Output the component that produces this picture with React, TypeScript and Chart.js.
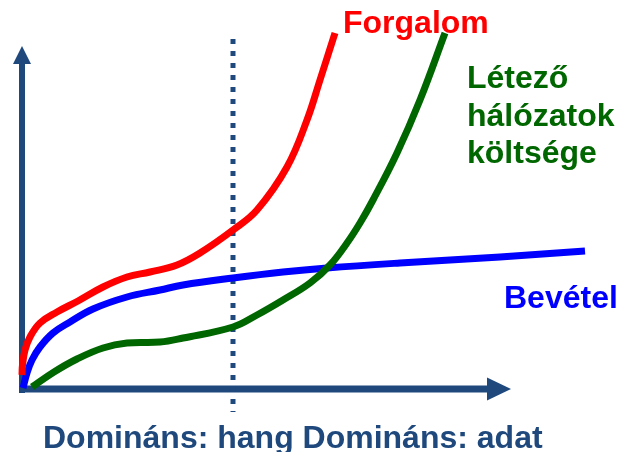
import { useEffect, useRef } from "react";
import { Chart, registerables } from "chart.js";

Chart.register(...registerables);

// Conceptual curves (origin = where the two axes meet)
const forgalomX = [0, 0.5, 3, 8, 18, 35, 56, 81, 105, 128, 155, 178, 211, 235, 265, 285, 298, 313];
const forgalomY = [14, 24, 39, 52, 66, 77, 88, 102, 112, 117, 124, 136, 159, 179, 222, 269, 309, 356];

const bevetelX = [1, 5, 10, 18, 31, 48, 71, 105, 138, 161, 211, 261, 305, 378, 478, 563];
const bevetelY = [1, 16, 29, 42, 56, 67, 80, 92, 99, 104, 111, 117, 121, 126, 132, 138];

const koltsegX = [10, 32, 55, 81, 105, 138, 161, 211, 235, 261, 288, 308, 325, 338, 351, 375, 398, 423];
const koltsegY = [2, 17, 30, 41, 46, 47, 51, 62, 74, 89, 106, 124, 146, 166, 189, 236, 289, 356];

// Vertical dotted divider (voice era | data era)
const dividerX = [211, 211];
const dividerY = [350, -23];

const labelForgalom = "Forgalom";
const labelKoltseg = ["Létező", "hálózatok", "költsége"];
const labelBevetel = "Bevétel";
const labelBottom = "Domináns: hang Domináns: adat";

const AXIS = "#1F497D";
const RED = "#FF0000";
const BLUE = "#0000FF";
const GREEN = "#006600";
const FONT = "bold 32px 'Liberation Sans', Arial, sans-serif";

const pts = (xs: number[], ys: number[]) => xs.map((x, i) => ({ x, y: ys[i] }));

const decor = {
  id: "decor",
  beforeDatasetsDraw(chart: any) {
    const { ctx, scales } = chart;
    const X = (v: number) => scales.x.getPixelForValue(v);
    const Y = (v: number) => scales.y.getPixelForValue(v);
    ctx.save();
    ctx.strokeStyle = AXIS;
    ctx.fillStyle = AXIS;
    ctx.lineCap = "butt";
    // y axis
    ctx.lineWidth = 6;
    ctx.beginPath();
    ctx.moveTo(X(0), Y(-4));
    ctx.lineTo(X(0), Y(326));
    ctx.stroke();
    ctx.beginPath();
    ctx.moveTo(X(0), Y(343));
    ctx.lineTo(X(-9), Y(325));
    ctx.lineTo(X(9), Y(325));
    ctx.closePath();
    ctx.fill();
    // x axis
    ctx.lineWidth = 7;
    ctx.beginPath();
    ctx.moveTo(X(-3), Y(0));
    ctx.lineTo(X(466), Y(0));
    ctx.stroke();
    ctx.beginPath();
    ctx.moveTo(X(489), Y(0));
    ctx.lineTo(X(465), Y(11.5));
    ctx.lineTo(X(465), Y(-11.5));
    ctx.closePath();
    ctx.fill();
    ctx.restore();
  },
  afterDatasetsDraw(chart: any) {
    const { ctx, scales } = chart;
    const X = (v: number) => scales.x.getPixelForValue(v);
    const Y = (v: number) => scales.y.getPixelForValue(v);
    ctx.save();
    ctx.font = FONT;
    ctx.textAlign = "left";
    ctx.textBaseline = "alphabetic";
    ctx.fillStyle = RED;
    ctx.fillText(labelForgalom, X(321), Y(356));
    ctx.fillStyle = GREEN;
    const ky = [301, 263.5, 226];
    labelKoltseg.forEach((t, i) => ctx.fillText(t, X(445), Y(ky[i])));
    ctx.fillStyle = BLUE;
    ctx.fillText(labelBevetel, X(482), Y(81));
    ctx.fillStyle = AXIS;
    ctx.fillText(labelBottom, X(21), Y(-58.7));
    ctx.restore();
  },
};

export default function App() {
  const ref = useRef<HTMLCanvasElement>(null);
  useEffect(() => {
    if (!ref.current) return;
    const common = {
      pointRadius: 0,
      borderWidth: 7,
      fill: false,
      tension: 0.4,
      borderCapStyle: "butt" as const,
      clip: false as any,
    };
    const chart = new Chart(ref.current, {
      type: "line",
      data: {
        datasets: [
          { ...common, label: "Létező hálózatok költsége", data: pts(koltsegX, koltsegY), borderColor: GREEN },
          { ...common, label: "Forgalom", data: pts(forgalomX, forgalomY), borderColor: RED },
          { ...common, label: "Bevétel", data: pts(bevetelX, bevetelY), borderColor: BLUE },
          {
            label: "divider",
            data: pts(dividerX, dividerY),
            borderColor: AXIS,
            borderWidth: 5,
            borderDash: [5, 7],
            borderCapStyle: "butt",
            pointRadius: 0,
            fill: false,
            tension: 0,
            clip: false as any,
          },
        ],
      },
      options: {
        animation: false,
        responsive: false,
        layout: { padding: 0 },
        parsing: false as any,
        scales: {
          x: { type: "linear", min: -22, max: 595, display: false },
          y: { type: "linear", min: -63, max: 389, display: false },
        },
        plugins: { legend: { display: false }, tooltip: { enabled: false } },
        events: [],
      },
      plugins: [decor],
    });
    return () => chart.destroy();
  }, []);
  return (
    <div style={{ position: "fixed", left: 0, top: 0, width: 617, height: 452, background: "#fff" }}>
      <canvas ref={ref} width={617} height={452} />
    </div>
  );
}
